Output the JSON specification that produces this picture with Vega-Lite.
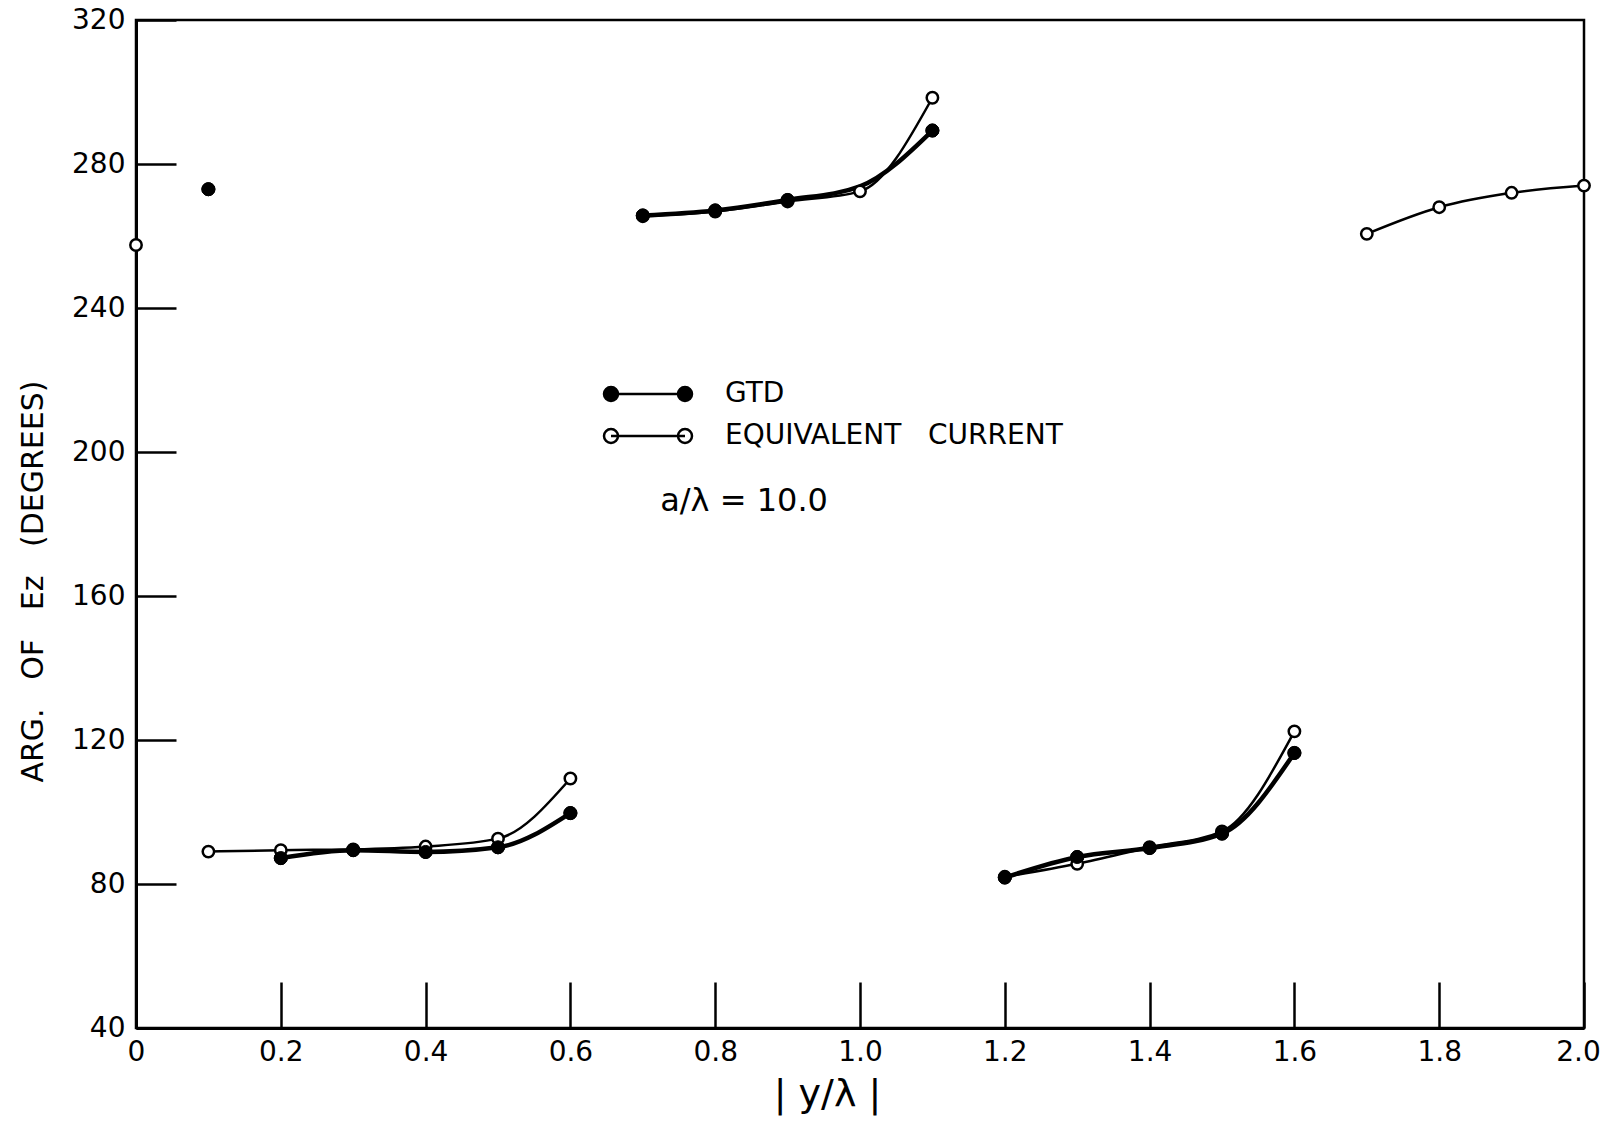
{
  "$schema": "https://vega.github.io/schema/vega-lite/v6.json",
  "width": 1448,
  "height": 1008,
  "autosize": {"type": "none"},
  "padding": {"left": 136, "top": 20, "right": 20, "bottom": 100},
  "background": "white",
  "config": {
    "view": {"stroke": "black", "strokeWidth": 2.5},
    "font": "DejaVu Sans"
  },
  "datasets": {
    "curves": [
      {"series": "GTD", "seg": "P", "x": 0.1, "y": 273},
      {"series": "GTD", "seg": "A", "x": 0.2, "y": 87.2},
      {"series": "GTD", "seg": "A", "x": 0.3, "y": 89.4},
      {"series": "GTD", "seg": "A", "x": 0.4, "y": 88.9},
      {"series": "GTD", "seg": "A", "x": 0.5, "y": 90.2},
      {"series": "GTD", "seg": "A", "x": 0.6, "y": 99.7},
      {"series": "GTD", "seg": "B", "x": 0.7, "y": 265.7},
      {"series": "GTD", "seg": "B", "x": 0.8, "y": 267.1},
      {"series": "GTD", "seg": "B", "x": 0.9, "y": 270.0},
      {"series": "GTD", "seg": "B", "x": 1.0, "y": 273.8},
      {"series": "GTD", "seg": "B", "x": 1.1, "y": 289.3},
      {"series": "GTD", "seg": "C", "x": 1.2, "y": 81.8},
      {"series": "GTD", "seg": "C", "x": 1.3, "y": 87.5},
      {"series": "GTD", "seg": "C", "x": 1.4, "y": 90.0},
      {"series": "GTD", "seg": "C", "x": 1.5, "y": 94.0},
      {"series": "GTD", "seg": "C", "x": 1.6, "y": 116.4},
      {"series": "EQUIVALENT CURRENT", "seg": "P", "x": 0.0, "y": 257.5},
      {"series": "EQUIVALENT CURRENT", "seg": "A", "x": 0.1, "y": 89.0},
      {"series": "EQUIVALENT CURRENT", "seg": "A", "x": 0.2, "y": 89.4},
      {"series": "EQUIVALENT CURRENT", "seg": "A", "x": 0.3, "y": 89.6},
      {"series": "EQUIVALENT CURRENT", "seg": "A", "x": 0.4, "y": 90.4},
      {"series": "EQUIVALENT CURRENT", "seg": "A", "x": 0.5, "y": 92.6},
      {"series": "EQUIVALENT CURRENT", "seg": "A", "x": 0.6, "y": 109.3},
      {"series": "EQUIVALENT CURRENT", "seg": "B", "x": 0.7, "y": 265.5},
      {"series": "EQUIVALENT CURRENT", "seg": "B", "x": 0.8, "y": 266.8},
      {"series": "EQUIVALENT CURRENT", "seg": "B", "x": 0.9, "y": 269.6},
      {"series": "EQUIVALENT CURRENT", "seg": "B", "x": 1.0, "y": 272.4},
      {"series": "EQUIVALENT CURRENT", "seg": "B", "x": 1.1, "y": 298.4},
      {"series": "EQUIVALENT CURRENT", "seg": "C", "x": 1.2, "y": 82.0},
      {"series": "EQUIVALENT CURRENT", "seg": "C", "x": 1.3, "y": 85.6},
      {"series": "EQUIVALENT CURRENT", "seg": "C", "x": 1.4, "y": 90.2},
      {"series": "EQUIVALENT CURRENT", "seg": "C", "x": 1.5, "y": 94.6},
      {"series": "EQUIVALENT CURRENT", "seg": "C", "x": 1.6, "y": 122.4},
      {"series": "EQUIVALENT CURRENT", "seg": "D", "x": 1.7, "y": 260.6},
      {"series": "EQUIVALENT CURRENT", "seg": "D", "x": 1.8, "y": 268.0},
      {"series": "EQUIVALENT CURRENT", "seg": "D", "x": 1.9, "y": 272.0},
      {"series": "EQUIVALENT CURRENT", "seg": "D", "x": 2.0, "y": 274.0}
    ],
    "note": [
      {"label": "a/λ = 10.0", "x": 0.724, "y": 186.4}
    ]
  },
  "data": {"name": "curves"},
  "encoding": {
    "x": {
      "field": "x", "type": "quantitative",
      "scale": {"domain": [0, 2], "nice": false, "zero": false},
      "axis": {
        "values": [0, 0.2, 0.4, 0.6, 0.8, 1.0, 1.2, 1.4, 1.6, 1.8, 2.0],
        "labelExpr": "datum.value == 0 ? '0' : format(datum.value, '.1f')",
        "grid": false,
        "tickSize": -46, "tickWidth": 2.5, "tickColor": "black",
        "domainColor": "black", "domainWidth": 3,
        "labelFontSize": 28, "labelColor": "black", "labelPadding": 56,
        "labelOffset": {"condition": {"test": "datum.value == 2", "value": -6}, "value": 0},
        "labelFlush": false, "labelOverlap": false, "labelFont": "DejaVu Sans",
        "title": "| y/λ |", "titleFontSize": 38, "titleFontWeight": "normal",
        "titleColor": "black", "titleFont": "DejaVu Sans",
        "titleX": 691, "titleY": 66, "titleAlign": "center", "titleBaseline": "middle"
      }
    },
    "y": {
      "field": "y", "type": "quantitative",
      "scale": {"domain": [40, 320], "nice": false, "zero": false},
      "axis": {
        "values": [40, 80, 120, 160, 200, 240, 280, 320],
        "grid": false,
        "tickSize": -40, "tickWidth": 2.5, "tickColor": "black",
        "domainColor": "black", "domainWidth": 3,
        "labelFontSize": 28, "labelColor": "black", "labelPadding": 51,
        "labelFlush": false, "labelOverlap": false, "labelFont": "DejaVu Sans",
        "title": "ARG.\u00a0\u00a0\u00a0OF\u00a0\u00a0\u00a0Ez\u00a0\u00a0\u00a0(DEGREES)", "titleFontSize": 30, "titleFontWeight": "normal",
        "titleColor": "black", "titleFont": "DejaVu Sans",
        "titleAngle": 270, "titleX": -103, "titleY": 561,
        "titleAlign": "center", "titleBaseline": "middle"
      }
    }
  },
  "layer": [
    {
      "transform": [{"filter": "datum.series == 'EQUIVALENT CURRENT' && datum.seg != 'P'"}],
      "mark": {"type": "line", "interpolate": "monotone", "color": "black", "strokeWidth": 2.5},
      "encoding": {"detail": {"field": "seg"}}
    },
    {
      "transform": [{"filter": "datum.series == 'GTD' && datum.seg != 'P'"}],
      "mark": {"type": "line", "interpolate": "monotone", "color": "black", "strokeWidth": 4.5},
      "encoding": {"detail": {"field": "seg"}}
    },
    {
      "transform": [{"filter": "datum.series == 'GTD' && datum.x != 1.0"}],
      "mark": {"type": "point", "shape": "circle", "filled": true, "stroke": "black", "strokeWidth": 1, "size": 170, "opacity": 1},
      "encoding": {
        "fill": {
          "field": "series", "type": "nominal",
          "scale": {"domain": ["GTD", "EQUIVALENT CURRENT"], "range": ["black", "white"]},
          "legend": {
            "orient": "none", "legendX": 498, "legendY": 360,
            "title": null, "padding": 0,
            "symbolType": "M -7.4 0 L 7.4 0 M -8.8 0 A 1.4 1.4 0 1 0 -6 0 A 1.4 1.4 0 1 0 -8.8 0 M 6 0 A 1.4 1.4 0 1 0 8.8 0 A 1.4 1.4 0 1 0 6 0",
            "symbolSize": 100, "symbolStrokeColor": "black", "symbolStrokeWidth": 2.5,
            "labelExpr": "replace(datum.label, ' ', '\u00a0\u00a0\u00a0')",
            "labelFontSize": 28, "labelColor": "black", "labelFont": "DejaVu Sans",
            "labelOffset": 63, "labelLimit": 0, "rowPadding": 14
          }
        }
      }
    },
    {
      "transform": [{"filter": "datum.series == 'EQUIVALENT CURRENT'"}],
      "mark": {"type": "point", "shape": "circle", "filled": true, "stroke": "black", "strokeWidth": 2.5, "size": 130, "opacity": 1},
      "encoding": {
        "fill": {"field": "series", "type": "nominal"}
      }
    },
    {
      "transform": [{"filter": "datum.series == 'GTD' && datum.x != 1.0"}],
      "mark": {"type": "point", "shape": "circle", "filled": true, "stroke": "black", "strokeWidth": 1, "size": 170, "opacity": 1},
      "encoding": {
        "fill": {"field": "series", "type": "nominal"}
      }
    },
    {
      "data": {"name": "note"},
      "mark": {"type": "text", "align": "left", "baseline": "middle", "fontSize": 32, "font": "DejaVu Sans", "color": "black"},
      "encoding": {
        "text": {"field": "label", "type": "nominal"}
      }
    }
  ]
}
